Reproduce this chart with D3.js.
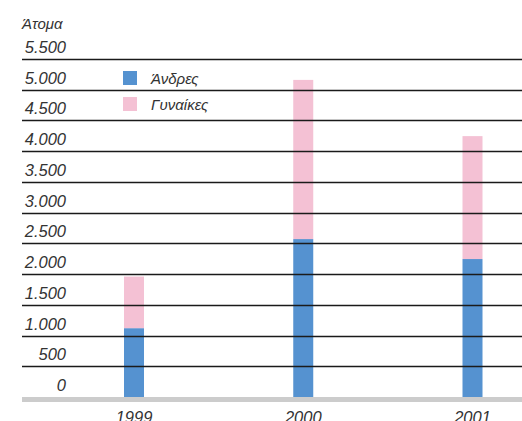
<!DOCTYPE html>
<html>
<head>
<meta charset="utf-8">
<script src="https://cdn.jsdelivr.net/npm/d3@7"></script>
<style>
  html, body { margin: 0; padding: 0; background: #fff; }
  svg { display: block; }
  text { font-family: "Liberation Sans", Arial, sans-serif; font-style: italic; fill: #333; }
</style>
</head>
<body>
<svg id="chart" width="522" height="421"></svg>
<script>
// Staff by year, split by gender
const years = ["1999", "2000", "2001"];
const men = [1120, 2570, 2245];
const women = [840, 2590, 2000];
const seriesNames = ["Άνδρες", "Γυναίκες"];
const seriesColors = ["#5592d0", "#f4c1d4"];
const tickValues = [0, 500, 1000, 1500, 2000, 2500, 3000, 3500, 4000, 4500, 5000, 5500];
const unitLabel = "Άτομα";

const svg = d3.select("#chart");
const W = 522, H = 421;
const left = 22, right = 522;

const y = d3.scaleLinear().domain([0, 5500]).range([397, 59]);
const x = d3.scalePoint().domain(years).range([134, 472.5]);
const barW = 20;

const fmt = v => d3.format(",")(v).replace(/,/g, ".");

// stacked bars
const rows = years.map((yr, i) => ({ year: yr, m: men[i], w: women[i] }));
const stack = d3.stack().keys(["m", "w"])(rows);
svg.append("g").selectAll("g").data(stack).join("g")
  .attr("fill", (d, i) => seriesColors[i])
  .selectAll("rect").data(d => d).join("rect")
  .attr("x", d => x(d.data.year) - barW / 2)
  .attr("width", barW)
  .attr("y", d => y(d[1]))
  .attr("height", d => y(d[0]) - y(d[1]));

// grid lines (drawn over the bars)
svg.append("g").selectAll("line").data(tickValues.filter(v => v > 0)).join("line")
  .attr("x1", left).attr("x2", right)
  .attr("y1", d => Math.round(y(d)) + 0.5).attr("y2", d => Math.round(y(d)) + 0.5)
  .attr("stroke", "#1a1a1a").attr("stroke-width", 1.3);

// base band
svg.append("rect").attr("x", left).attr("y", y(0)).attr("width", right - left).attr("height", 5)
  .attr("fill", "#cccccc");

// tick labels sit just above their lines
svg.append("g").selectAll("text").data(tickValues).join("text")
  .attr("x", 66).attr("y", d => y(d) - 6)
  .attr("text-anchor", "end").attr("font-size", 16.5)
  .text(d => fmt(d));

svg.append("text").attr("x", 22).attr("y", 29).attr("font-size", 15).text(unitLabel);

// year labels
svg.append("g").selectAll("text").data(years).join("text")
  .attr("x", d => x(d)).attr("y", 423)
  .attr("text-anchor", "middle").attr("font-size", 16.5)
  .text(d => d);

// legend
const lg = svg.append("g").selectAll("g").data(seriesNames).join("g")
  .attr("transform", (d, i) => `translate(123, ${71 + i * 26})`);
lg.append("rect").attr("width", 14).attr("height", 14).attr("fill", (d, i) => seriesColors[i]);
lg.append("text").attr("x", 28).attr("y", 13).attr("font-size", 15).text(d => d);
</script>
</body>
</html>
